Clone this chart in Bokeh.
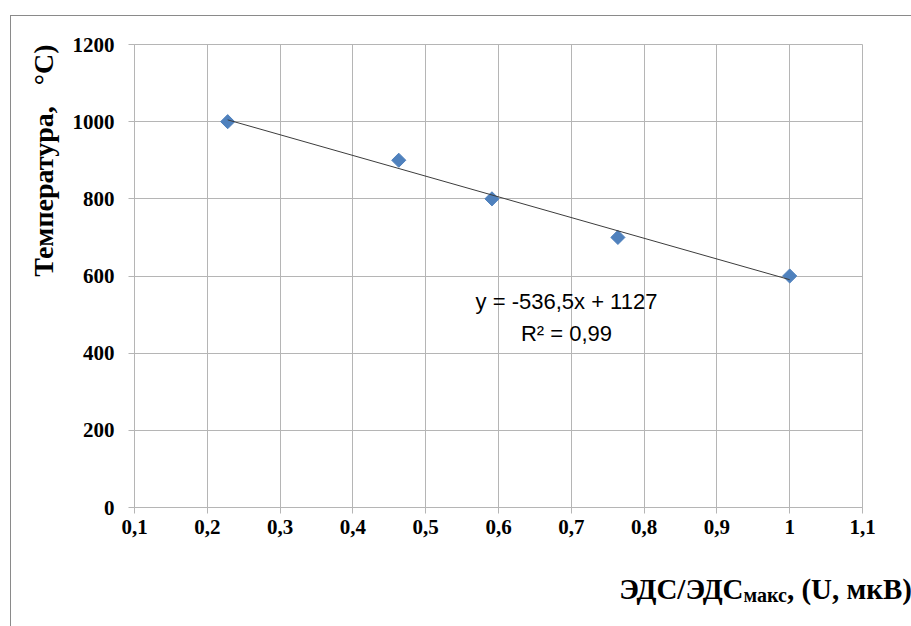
import math
from bokeh.plotting import figure
from bokeh.models import Range1d, FixedTicker, Label, Title, Div
from bokeh.layouts import column
from bokeh.embed import file_html
from bokeh.resources import INLINE

# ---- data ----
x_vals = [0.228, 0.463, 0.591, 0.764, 1.0]
temp_vals = [1000, 900, 800, 700, 600]

x_ticks = [0.1, 0.2, 0.3, 0.4, 0.5, 0.6, 0.7, 0.8, 0.9, 1.0, 1.1]
x_tick_labels = ["0,1", "0,2", "0,3", "0,4", "0,5", "0,6", "0,7", "0,8", "0,9", "1", "1,1"]
y_ticks = [0, 200, 400, 600, 800, 1000, 1200]
y_tick_labels = ["0", "200", "400", "600", "800", "1000", "1200"]

trend_slope = -536.5
trend_intercept = 1127
eq_text = "y = -536,5x + 1127"
r2_text = "R² = 0,99"

y_title = "Температура,\u00a0\u00a0\u00a0°C)"
x_title_main = "ЭДС/ЭДС"
x_title_sub = "макс"
x_title_tail = ", (U, мкВ)"

# ---- layout constants (window pixels) ----
FR_L, FR_R, FR_T, FR_B = 134, 862, 44, 507
X0, X1, Y0, Y1 = 0.1, 1.1, 0, 1200
OX, OY = 11, 16  # content origin inside window (after margin + border)
CW = 899
PH = 554         # figure height
DH = 56          # x-title strip height

def px_x(px):
    return X0 + (px - FR_L) * (X1 - X0) / (FR_R - FR_L)

def px_y(py):
    return Y0 + (FR_B - py) * (Y1 - Y0) / (FR_B - FR_T)

grid_c = "#b5b5b5"

p = figure(width=CW, height=PH,
           x_range=Range1d(X0, X1), y_range=Range1d(Y0, Y1),
           output_backend="svg", toolbar_location=None,
           min_border_left=FR_L - OX, min_border_right=OX + CW - FR_R,
           min_border_top=FR_T - OY, min_border_bottom=OY + PH - FR_B,
           background_fill_color="white", border_fill_color="white")

p.outline_line_color = grid_c
p.grid.grid_line_color = grid_c
p.grid.grid_line_width = 1

for ax, ticks, labels in ((p.xaxis, x_ticks, x_tick_labels), (p.yaxis, y_ticks, y_tick_labels)):
    ax.ticker = FixedTicker(ticks=ticks)
    ax.major_label_overrides = dict(zip(ticks, labels))
    ax.axis_line_color = grid_c
    ax.major_tick_line_color = grid_c
    ax.major_tick_out = 6
    ax.major_tick_in = 0
    ax.minor_tick_line_color = None
    ax.major_label_text_font = "Liberation Serif"
    ax.major_label_text_font_style = "bold"
    ax.major_label_text_font_size = "21px"
    ax.major_label_text_color = "black"
p.yaxis.major_label_standoff = 14
p.xaxis.major_label_standoff = 6

p.scatter(x_vals, temp_vals, marker="square", size=10, angle=math.pi / 4,
          fill_color="#4F81BD", line_color="#4F81BD")

tx = [min(x_vals), max(x_vals)]
ty = [trend_slope * v + trend_intercept for v in tx]
p.line(tx, ty, line_color="#3c3c3c", line_width=1)

# equation labels
for txt, cy in ((eq_text, 301), (r2_text, 333)):
    p.add_layout(Label(x=px_x(566), y=px_y(cy), text=txt, text_align="center",
                       text_baseline="middle", text_font="Liberation Sans",
                       text_font_size="22px", text_color="black"))

# y axis title as a side-panel title aligned to the top
p.add_layout(Title(text=y_title, align="right", text_font="Liberation Serif",
                   text_font_style="bold", text_font_size="28px",
                   text_color="black", standoff=22), "left")

# x axis title with subscript, as real HTML text under the plot
x_title_html = (
    '<div style="width:%dpx;text-align:right;font-family:\'Liberation Serif\';'
    'font-weight:bold;font-size:29px;line-height:29px;color:black;white-space:nowrap;">'
    '%s<sub style="font-size:20px;vertical-align:-3px;line-height:0;">%s</sub>%s</div>'
    % (CW - 3, x_title_main, x_title_sub, x_title_tail)
)
div = Div(text=x_title_html, width=CW, height=DH)

layout = column(p, div, spacing=0, margin=(15, 0, 0, 10),
                styles={"border-top": "1px solid #8a8a8a",
                        "border-left": "1px solid #8a8a8a",
                        "border-right": "1px solid #8a8a8a",
                        "background-color": "white"})

open("out.html", "w").write(file_html(layout, INLINE))
